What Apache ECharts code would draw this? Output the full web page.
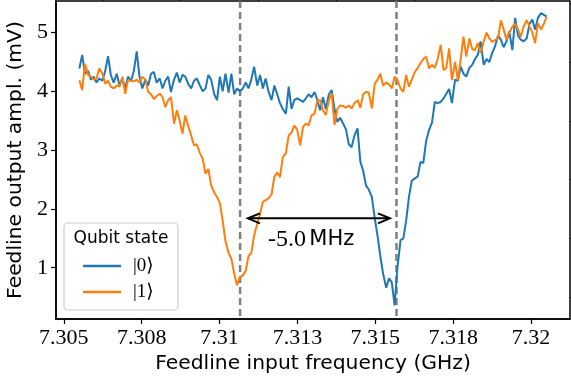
<!DOCTYPE html>
<html><head><meta charset="utf-8">
<script src="https://cdn.jsdelivr.net/npm/echarts@6/dist/echarts.min.js"></script>
<style>html,body{margin:0;padding:0;background:#fff}#c{width:571px;height:385px}</style>
</head><body><div id="c"></div>
<script>
// Sweep frequencies (GHz)
const freq = [
7.30550,7.30559,7.30568,7.30578,7.30587,7.30596,7.30605,7.30614,7.30624,7.30633,
7.30642,7.30651,7.30660,7.30670,7.30679,7.30688,7.30697,7.30706,7.30716,7.30725,
7.30734,7.30743,7.30752,7.30762,7.30771,7.30780,7.30789,7.30798,7.30808,7.30817,
7.30826,7.30835,7.30844,7.30854,7.30863,7.30872,7.30881,7.30890,7.30900,7.30909,
7.30918,7.30927,7.30937,7.30946,7.30955,7.30964,7.30973,7.30983,7.30992,7.31001,
7.31010,7.31019,7.31029,7.31038,7.31047,7.31056,7.31065,7.31075,7.31084,7.31093,
7.31102,7.31111,7.31121,7.31130,7.31139,7.31148,7.31157,7.31167,7.31176,7.31185,
7.31194,7.31203,7.31213,7.31222,7.31231,7.31240,7.31249,7.31259,7.31268,7.31277,
7.31286,7.31295,7.31305,7.31314,7.31323,7.31332,7.31341,7.31351,7.31360,7.31369,
7.31378,7.31387,7.31397,7.31406,7.31415,7.31424,7.31433,7.31443,7.31452,7.31461,
7.31470,7.31479,7.31489,7.31498,7.31507,7.31516,7.31525,7.31535,7.31544,7.31553,
7.31562,7.31571,7.31581,7.31590,7.31599,7.31608,7.31617,7.31627,7.31636,7.31645,
7.31654,7.31663,7.31673,7.31682,7.31691,7.31700,7.31710,7.31719,7.31728,7.31737,
7.31746,7.31756,7.31765,7.31774,7.31783,7.31792,7.31802,7.31811,7.31820,7.31829,
7.31838,7.31848,7.31857,7.31866,7.31875,7.31884,7.31894,7.31903,7.31912,7.31921,
7.31930,7.31940,7.31949,7.31958,7.31967,7.31976,7.31986,7.31995,7.32004,7.32013,
7.32022,7.32032,7.32041,7.32050
];
// Feedline output amplitude (mV), qubit in |0>
const state0 = [
4.39,4.62,4.30,4.35,4.20,4.25,4.15,4.22,4.18,4.35,
4.60,4.28,4.15,4.30,4.10,4.22,4.05,4.25,4.18,4.35,
4.68,4.25,4.05,4.20,4.10,4.30,4.33,4.15,4.22,4.05,
4.18,4.25,3.99,4.20,4.32,4.15,4.28,4.25,4.12,4.05,
4.18,4.22,4.10,4.00,4.05,4.28,4.20,3.95,3.85,4.25,
4.00,4.30,3.98,4.30,3.95,4.05,4.00,4.05,4.15,4.05,
4.20,4.42,4.10,4.28,4.05,4.22,4.00,3.85,4.10,3.95,
3.80,3.70,3.62,4.08,3.70,3.85,3.88,3.85,3.82,3.88,
3.95,3.90,3.99,3.85,3.68,3.90,3.70,3.95,4.02,3.70,
3.48,3.55,3.45,3.35,3.10,3.05,3.25,3.37,2.80,2.65,
2.40,2.33,2.20,1.85,1.55,1.20,0.90,0.66,0.82,0.75,
0.36,1.00,1.47,1.50,1.80,2.20,2.48,2.52,2.55,2.80,
2.78,3.15,3.35,3.47,3.82,3.80,3.82,3.88,3.96,4.04,
3.80,4.20,4.18,4.42,4.30,4.25,4.40,4.45,4.55,4.62,
4.85,4.45,4.55,4.50,4.65,4.76,4.95,4.88,4.75,4.85,
5.02,4.70,5.25,4.95,4.88,4.85,4.90,5.15,5.22,5.05,
5.25,5.33,5.30,5.27
];
// Feedline output amplitude (mV), qubit in |1>
const state1 = [
4.19,4.02,4.47,4.28,4.25,4.20,4.22,4.39,4.30,4.13,
4.18,4.08,4.05,4.10,4.08,4.25,3.96,4.19,4.18,4.17,
4.20,4.15,4.25,4.20,3.99,3.95,3.87,3.92,3.96,3.90,
3.73,3.85,3.90,3.45,3.68,3.50,3.28,3.59,3.40,3.25,
3.08,3.10,2.95,2.85,2.60,2.68,2.40,2.28,2.20,2.10,
1.80,1.45,1.25,1.15,0.90,0.70,0.84,0.87,0.95,1.20,
1.25,1.55,1.75,1.92,2.12,2.15,2.18,2.25,2.55,2.62,
2.54,2.88,2.95,3.25,3.30,3.42,3.35,3.08,3.40,3.45,
3.42,3.59,3.62,3.85,3.85,3.68,3.60,3.85,3.96,3.43,
3.70,3.76,3.75,3.72,3.76,3.71,3.80,3.85,3.72,3.95,
3.99,3.98,3.71,4.13,4.20,4.30,4.10,4.15,4.12,4.05,
4.25,4.19,4.05,3.99,4.28,4.08,4.20,4.33,4.40,4.48,
4.55,4.59,4.39,4.45,4.40,4.55,4.79,4.36,4.40,4.73,
4.19,4.50,4.19,4.55,4.93,4.59,4.90,4.72,4.70,4.82,
4.65,4.85,5.00,4.90,4.84,4.87,4.90,5.21,5.05,4.88,
5.00,5.10,5.15,5.05,4.93,5.10,5.21,5.10,5.00,4.82,
5.16,5.05,5.15,5.27
];
const seriesNames = ['|0\u27E9', '|1\u27E9'];
const legendTitle = 'Qubit state';
const xTickValues = [7.305, 7.3075, 7.31, 7.3125, 7.315, 7.3175, 7.32];
const xTickLabels = ['7.305', '7.308', '7.31', '7.313', '7.315', '7.318', '7.32'];
const xMinorTicks = [7.30625, 7.30875, 7.31125, 7.31375, 7.31625, 7.31875];
const yTickValues = [1, 2, 3, 4, 5];
const yTickLabels = ['1', '2', '3', '4', '5'];
const yMinorTicks = [0.5, 1.5, 2.5, 3.5, 4.5, 5.5];
const resonanceFreqs = [7.31066, 7.31568];
const arrowFreqs = [7.31091, 7.31547];
const arrowLevel = 1.84;
const shiftText = ['-5.0', 'MHz'];
const shiftTextPos = [7.31294, 1.48];

const XMIN = 7.30475, XMAX = 7.32125, YMIN = 0.128, YMAX = 5.537;
const SERIF = "'Liberation Serif','DejaVu Serif',serif";
const SANS = "'DejaVu Sans',sans-serif";

const chart = echarts.init(document.getElementById('c'), null, {renderer: 'canvas'});

function pairs(ys) { return freq.map((f, i) => [f, ys[i]]); }

const baseX = {type: 'value', min: XMIN, max: XMAX, splitLine: {show: false}};
const baseY = {type: 'value', min: YMIN, max: YMAX, splitLine: {show: false}};

chart.setOption({
  animation: false,
  backgroundColor: '#ffffff',
  grid: {left: 56, right: 1, top: 1, bottom: 66, containLabel: false, outerBoundsMode: 'none',
         show: true, borderColor: '#000', borderWidth: 1.5, backgroundColor: 'transparent'},
  xAxis: [
    Object.assign({}, baseX, {
      name: 'Feedline input frequency (GHz)', nameLocation: 'middle', nameGap: 34,
      nameTextStyle: {fontFamily: SANS, fontSize: 20.3, color: '#000'},
      axisLine: {show: true, lineStyle: {color: '#000', width: 1.5}},
      axisTick: {show: true, inside: false, length: 5, lineStyle: {color: '#000', width: 1.2}, customValues: xTickValues},
      axisLabel: {show: true, margin: 8, color: '#000', fontFamily: SERIF, fontSize: 22, customValues: xTickValues,
        formatter: v => { let k = 0, d = 1e9; xTickValues.forEach((t, i) => { if (Math.abs(t - v) < d) { d = Math.abs(t - v); k = i; } }); return xTickLabels[k]; }}
    }),
    Object.assign({}, baseX, {
      axisLine: {show: false},
      axisTick: {show: true, inside: false, length: 3, lineStyle: {color: '#000', width: 1}, customValues: xMinorTicks},
      axisLabel: {show: false}
    })
  ],
  yAxis: [
    Object.assign({}, baseY, {
      name: 'Feedline output ampl. (mV)', nameLocation: 'middle', nameGap: 28, nameRotate: 90,
      nameTextStyle: {fontFamily: SANS, fontSize: 20.3, color: '#000'},
      axisLine: {show: true, lineStyle: {color: '#000', width: 1.5}},
      axisTick: {show: true, inside: false, length: 5, lineStyle: {color: '#000', width: 1.2}, customValues: yTickValues},
      axisLabel: {show: true, margin: 8, color: '#000', fontFamily: SERIF, fontSize: 22, customValues: yTickValues,
        formatter: v => { const k = yTickValues.indexOf(Math.round(v)); return k >= 0 ? yTickLabels[k] : ''; }}
    }),
    Object.assign({}, baseY, {
      axisLine: {show: false},
      axisTick: {show: true, inside: false, length: 3, lineStyle: {color: '#000', width: 1}, customValues: yMinorTicks},
      axisLabel: {show: false}
    })
  ],
  legend: {
    orient: 'vertical', left: 83, top: 256, padding: 0, itemWidth: 38, itemHeight: 2.5, itemGap: 6,
    icon: 'rect',
    data: seriesNames,
    textStyle: {fontFamily: SERIF, fontSize: 19, lineHeight: 20, color: '#000', padding: [0, 0, 0, 7]}
  },
  series: [
    {name: seriesNames[0], type: 'line', data: pairs(state0), symbol: 'none', showSymbol: false,
     lineStyle: {color: '#1f77b4', width: 2}, itemStyle: {color: '#1f77b4'}, z: 3},
    {name: seriesNames[1], type: 'line', data: pairs(state1), symbol: 'none', showSymbol: false,
     lineStyle: {color: '#ff7f0e', width: 2}, itemStyle: {color: '#ff7f0e'}, z: 4}
  ]
});

// Resonance markers, legend frame/title, arrow and annotation
const toPx = p => chart.convertToPixel({xAxisIndex: 0, yAxisIndex: 0}, p);
const gTop = toPx([XMIN, YMAX])[1], gBot = toPx([XMIN, YMIN])[1];
const p1 = toPx([arrowFreqs[0], arrowLevel]);
const p2 = toPx([arrowFreqs[1], arrowLevel]);
const pt = toPx(shiftTextPos);
const hl = 12, hw = 5;
const graphics = resonanceFreqs.map(f => {
  const x = toPx([f, YMIN])[0];
  return {type: 'line', z: 2, shape: {x1: x, y1: gTop, x2: x, y2: gBot},
          style: {stroke: '#808080', lineWidth: 2.5, lineDash: [7, 4]}};
});
graphics.push(
  {type: 'rect', z: 1, shape: {x: 64, y: 223, width: 114, height: 87, r: 4},
   style: {fill: 'rgba(255,255,255,0.85)', stroke: '#cccccc', lineWidth: 1.2}},
  {type: 'text', z: 2, x: 121, y: 239,
   style: {text: legendTitle, fontFamily: SANS, fontSize: 17, fill: '#000', align: 'center', verticalAlign: 'middle'}},
  {type: 'line', z: 10, shape: {x1: p1[0], y1: p1[1], x2: p2[0], y2: p2[1]},
   style: {stroke: '#000', lineWidth: 2}},
  {type: 'polyline', z: 10, shape: {points: [[p1[0] + hl, p1[1] - hw], [p1[0], p1[1]], [p1[0] + hl, p1[1] + hw]]},
   style: {stroke: '#000', lineWidth: 2, fill: 'none'}},
  {type: 'polyline', z: 10, shape: {points: [[p2[0] - hl, p2[1] - hw], [p2[0], p2[1]], [p2[0] - hl, p2[1] + hw]]},
   style: {stroke: '#000', lineWidth: 2, fill: 'none'}},
  {type: 'text', z: 10, x: pt[0], y: pt[1],
   style: {text: '{a|' + shiftText[0] + '} {b|' + shiftText[1] + '}', align: 'center', verticalAlign: 'middle',
     rich: {a: {fontFamily: SERIF, fontSize: 24, fill: '#000'}, b: {fontFamily: SANS, fontSize: 21, fill: '#000'}}}}
);
chart.setOption({graphic: graphics});
</script>
</body></html>
